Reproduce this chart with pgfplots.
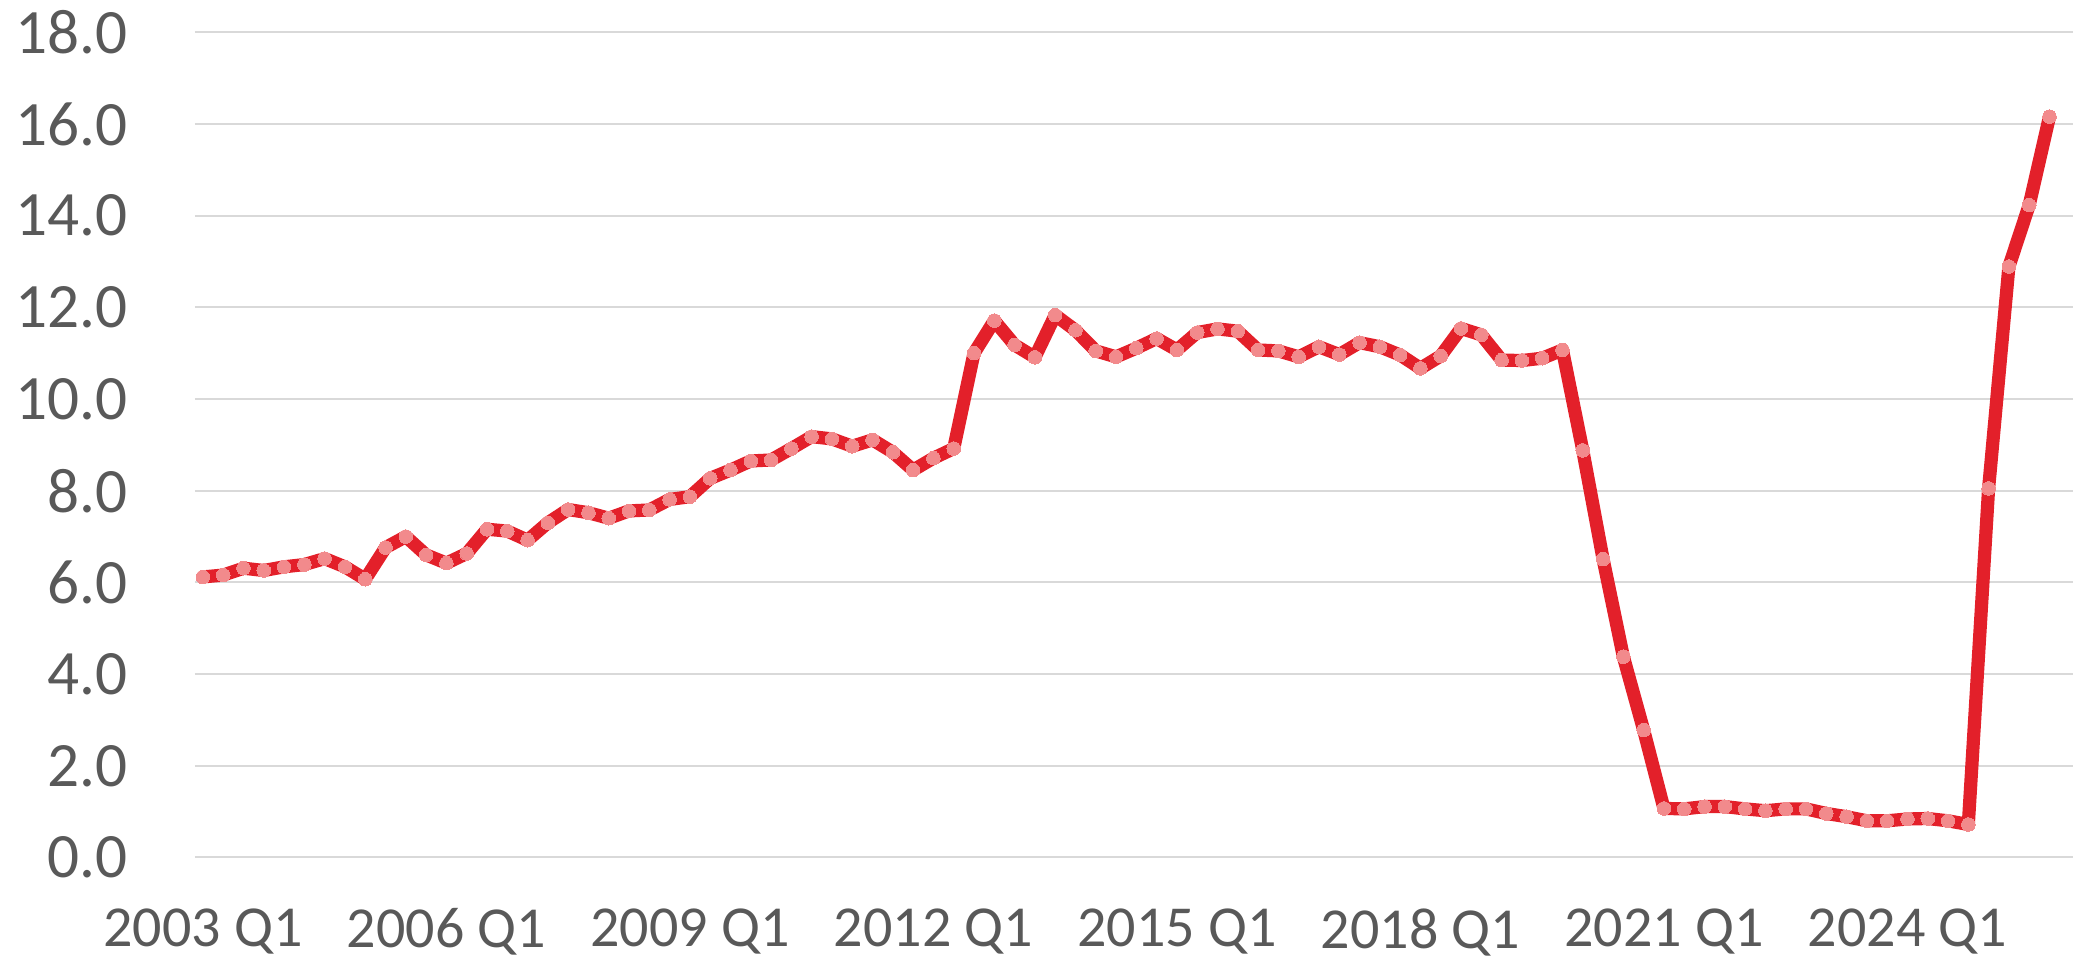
\documentclass[border=0pt]{standalone}
\usepackage{pgfplots}
\pgfplotsset{compat=1.18}
\usepackage{fontspec}
\setmainfont{Carlito}
\definecolor{txtgray}{HTML}{595959}
\definecolor{gridgray}{HTML}{D9D9D9}
\definecolor{linered}{HTML}{E3202A}
\definecolor{markpink}{HTML}{F28A8C}
\begin{document}
\begin{tikzpicture}
\begin{axis}[
  name=main,
  scale only axis,
  width=469.5pt, height=206.3pt,
  xmin=-0.39, xmax=92.16,
  ymin=0, ymax=18,
  ytick={0,2,...,18},
  xtick={0,12,24,36,48,60,72,84},
  xticklabels={2003 Q1,2006 Q1,2009 Q1,2012 Q1,2015 Q1,2018 Q1,2021 Q1,2024 Q1},
  ymajorgrids,
  grid style={gridgray, line width=0.5pt},
  axis line style={draw=none},
  major tick length=0pt,
  tick style={draw=none},
  clip=false,
  /pgf/number format/.cd, fixed, fixed zerofill, precision=1, assume math mode=true,
  /pgfplots/.cd,
  ticklabel style={text=txtgray, inner sep=0pt},
  yticklabel style={font=\fontsize{15.8}{17}\selectfont, anchor=east, xshift=-16.75pt},
  xticklabel style={font=\fontsize{14.5}{16}\selectfont, anchor=north, yshift=-12.6pt},
]
\addplot[draw=linered, line width=3.3pt, line join=round, line cap=round,
  mark=*, mark size=1.7pt,
  mark options={solid, line width=0pt, draw=markpink, fill=markpink}]
table {
x y
0 6.12
1 6.16
2 6.31
3 6.26
4 6.34
5 6.39
6 6.52
7 6.34
8 6.07
9 6.76
10 7.00
11 6.60
12 6.42
13 6.63
14 7.16
15 7.12
16 6.92
17 7.30
18 7.59
19 7.52
20 7.40
21 7.56
22 7.58
23 7.81
24 7.87
25 8.27
26 8.45
27 8.65
28 8.67
29 8.92
30 9.18
31 9.13
32 8.97
33 9.11
34 8.84
35 8.45
36 8.71
37 8.92
38 11.00
39 11.71
40 11.18
41 10.91
42 11.83
43 11.50
44 11.05
45 10.92
46 11.11
47 11.32
48 11.07
49 11.45
50 11.53
51 11.48
52 11.07
53 11.05
54 10.92
55 11.14
56 10.97
57 11.23
58 11.14
59 10.96
60 10.67
61 10.94
62 11.54
63 11.40
64 10.85
65 10.84
66 10.89
67 11.07
68 8.88
69 6.51
70 4.38
71 2.78
72 1.07
73 1.06
74 1.11
75 1.11
76 1.06
77 1.02
78 1.06
79 1.06
80 0.96
81 0.89
82 0.80
83 0.80
84 0.84
85 0.85
86 0.80
87 0.72
88 8.05
89 12.89
90 14.23
91 16.16
};
\end{axis}
\pgfresetboundingbox
\path ([xshift=-48.75pt, yshift=-25.125pt]main.south west) rectangle ([yshift=8.075pt]main.north east);
\end{tikzpicture}
\end{document}
